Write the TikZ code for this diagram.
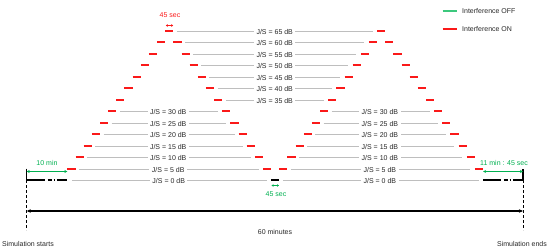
\documentclass[tikz,border=0pt]{standalone}
\usepackage{fontspec}
\setmainfont{Liberation Sans}
\usetikzlibrary{arrows.meta}
\definecolor{redon}{RGB}{250,25,25}
\definecolor{greenoff}{RGB}{0,176,80}
\definecolor{greenleg}{RGB}{60,200,125}
\definecolor{grayln}{RGB}{190,190,190}
\definecolor{txt}{RGB}{40,40,40}
\begin{document}
\begin{tikzpicture}[x=1pt,y=-1pt,font=\fontsize{7}{8}\selectfont,
  reddash/.style={color=redon,line width=2pt},
  grayline/.style={color=grayln,line width=1pt},
  blackline/.style={color=black,line width=1.4pt},
  jslabel/.style={fill=white,inner xsep=2.5pt,inner ysep=0.5pt,text=txt},
  greenarrow/.style={color=greenoff,line width=1pt,{Stealth[length=3pt,width=3pt]}-{Stealth[length=3pt,width=3pt]}},
  smallarrow/.style={line width=1pt,{Stealth[length=2pt,width=2.6pt]}-{Stealth[length=2pt,width=2.6pt]}},
  vdash/.style={color=black,line width=1pt,dash pattern=on 2.5pt off 2.5pt},
  lbl/.style={inner sep=0pt,text=txt}]
\useasboundingbox (0,0) rectangle (550,252);

% red interference-on steps, left triangle
\foreach \s in {0,...,24}{
  \pgfmathsetmacro\rr{13-abs(\s-12)}
  \pgfmathsetmacro\xa{67.4+\s*8.15}
  \pgfmathsetmacro\yy{round(180.2-11.5*\rr)}
  \draw[reddash] (\xa,\yy) -- ++(8.15,0);
}
% red interference-on steps, right triangle
\foreach \s in {26,...,50}{
  \pgfmathsetmacro\rr{13-abs(\s-38)}
  \pgfmathsetmacro\xa{67.4+\s*8.15}
  \pgfmathsetmacro\yy{round(180.2-11.5*\rr)}
  \draw[reddash] (\xa,\yy) -- ++(8.15,0);
}

% upper rows: one label between the triangles
\foreach \rr in {7,...,13}{
  \pgfmathsetmacro\xa{67.4+(26-\rr)*8.15+3.5}
  \pgfmathsetmacro\xb{67.4+(25+\rr)*8.15-4.5}
  \pgfmathsetmacro\yy{round(180.2-11.5*\rr)+0.5}
  \pgfmathtruncatemacro\db{5*\rr}
  \draw[grayline] (\xa,\yy) -- (\xb,\yy);
  \node[jslabel] (jsc\db) at ({(\xa+\xb)/2},\yy) {J/S = \db{} dB};
}
% lower rows: one label in each triangle
\foreach \rr in {0,...,6}{
  \pgfmathsetmacro\xa{67.4+\rr*8.15+(\rr==0?4.5:3.5)}
  \pgfmathsetmacro\xb{67.4+(25-\rr)*8.15-4}
  \pgfmathsetmacro\xc{67.4+(26+\rr)*8.15+3.5}
  \pgfmathsetmacro\xd{67.4+(51-\rr)*8.15-4.5}
  \pgfmathsetmacro\yy{round(180.2-11.5*\rr)+0.5}
  \pgfmathtruncatemacro\db{5*\rr}
  \draw[grayline] (\xa,\yy) -- (\xb,\yy);
  \draw[grayline] (\xc,\yy) -- (\xd,\yy);
  \node[jslabel] (jsl\db) at ({(\xa+\xb)/2-0.8},\yy) {J/S = \db{} dB};
  \node[jslabel] (jsr\db) at ({(\xc+\xd)/2-0.8},\yy) {J/S = \db{} dB};
}

% interference-off segments (black) at 0 dB
\coordinate (startT) at (26.7,168.5);
\coordinate (startB) at (26.7,180);
\coordinate (endT) at (523,168.5);
\coordinate (endB) at (523,180);
\draw[blackline] (startT) -- (startB) -- (45,180);
\draw[blackline] (47.5,180) -- (51.5,180);
\draw[blackline] (53.5,180) -- (54.8,180);
\draw[blackline] (56.8,180) -- (67.4,180);
\draw[blackline] (271.15,180) -- ++(8.15,0);
\draw[blackline] (483.05,180) -- (501,180);
\draw[blackline] (503.5,180) -- (507.5,180);
\draw[blackline] (509.5,180) -- (510.8,180);
\draw[blackline] (512.8,180) -- (endB) -- (endT);

% vertical dashed markers
\coordinate (startD) at (26.7,230);
\coordinate (endD) at (523,230);
\draw[vdash] (startB) -- (startD);
\draw[vdash] (endB) -- (endD);

% green durations
\draw[greenarrow] (26.7,171.5) -- (67.4,171.5);
\node[text=greenoff] (tenmin) at (47,162.7) {10 min};
\draw[greenarrow] (483.05,171.5) -- (523,171.5);
\node[text=greenoff] (elevenmin) at (504,162.7) {11 min : 45 sec};
\draw[smallarrow,color=greenoff] (271.6,185.5) -- (279.0,185.5);
\node[text=greenoff] (fortyfiveb) at (276,193.8) {45 sec};

% red 45 sec at top
\draw[smallarrow,color=redon] (165.8,25.5) -- (173.2,25.5);
\node[text=redon] (fortyfivet) at (170,15.2) {45 sec};

% 60 minutes axis
\draw[color=black,line width=1.2pt,{Stealth[length=4pt,width=3.5pt]}-{Stealth[length=4pt,width=3.5pt]}] (26.7,211) -- (523,211);
\node[lbl] (sixty) at (275,232.3) {60 minutes};
\node[lbl] (simstart) at (28,244.3) {Simulation starts};
\node[lbl] (simend) at (522,244.3) {Simulation ends};

% legend
\draw[color=greenleg,line width=2pt] (442.7,11) -- (456.7,11);
\node[lbl,anchor=west] (legoff) at (462,10.9) {Interference OFF};
\draw[color=redon,line width=2pt] (442.7,29) -- (456.7,29);
\node[lbl,anchor=west] (legon) at (462,29.5) {Interference ON};
\end{tikzpicture}
\end{document}
